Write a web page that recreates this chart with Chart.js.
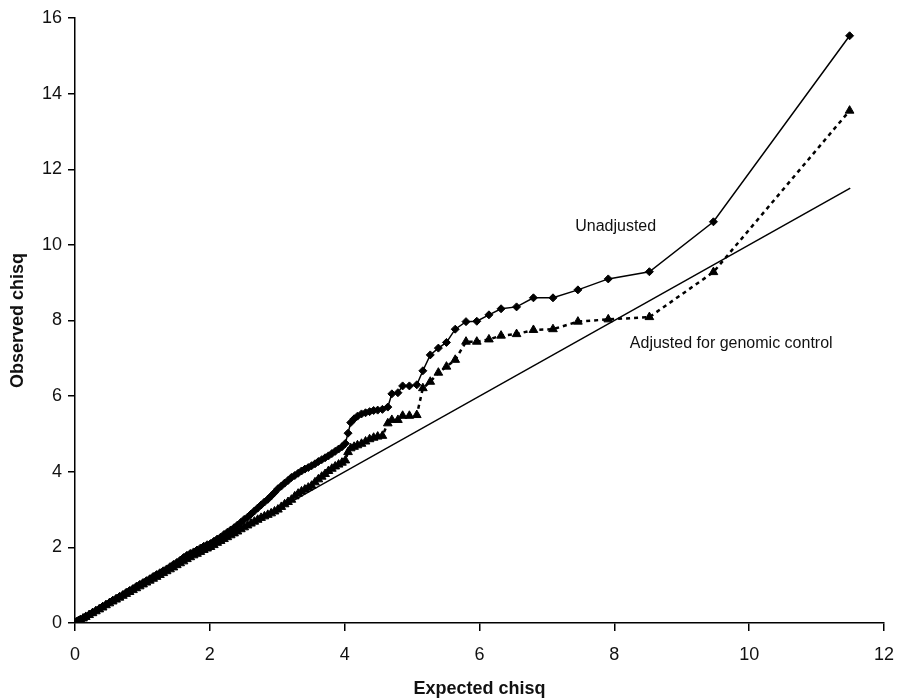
<!DOCTYPE html>
<html>
<head>
<meta charset="utf-8">
<script src="https://cdn.jsdelivr.net/npm/chart.js@4.4.1/dist/chart.umd.min.js"></script>
<style>
  html, body { margin: 0; padding: 0; background: #fff; }
  #wrap { width: 907px; height: 700px; }
</style>
</head>
<body>
<div id="wrap"><canvas id="qq"></canvas></div>
<script>
// expected chisq (shared x for both series)
const expected = [
  0.00, 0.02, 0.05, 0.08, 0.12, 0.16, 0.21, 0.26, 0.31, 0.36,
  0.41, 0.46, 0.51, 0.56, 0.61, 0.66, 0.71, 0.76, 0.81, 0.86,
  0.91, 0.96, 1.01, 1.06, 1.11, 1.16, 1.21, 1.26, 1.31, 1.36,
  1.41, 1.46, 1.51, 1.56, 1.61, 1.66, 1.71, 1.76, 1.81, 1.86,
  1.91, 1.96, 2.01, 2.06, 2.11, 2.16, 2.21, 2.26, 2.31, 2.36,
  2.41, 2.46, 2.51, 2.56, 2.61, 2.66, 2.71, 2.76, 2.81, 2.86,
  2.91, 2.96, 3.01, 3.06, 3.11, 3.16, 3.21, 3.26, 3.31, 3.36,
  3.41, 3.46, 3.51, 3.56, 3.61, 3.66, 3.71, 3.76, 3.81, 3.86,
  3.91, 3.96, 4.01, 4.05, 4.09, 4.14, 4.19, 4.25, 4.31, 4.37,
  4.43, 4.49, 4.56, 4.64, 4.70, 4.79, 4.86, 4.96, 5.07, 5.16,
  5.27, 5.39, 5.51, 5.64, 5.80, 5.96, 6.14, 6.32, 6.55, 6.80,
  7.09, 7.46, 7.91, 8.52, 9.47, 11.49
];

// observed chisq, unadjusted
const unadjusted = [
  0.00, 0.02, 0.05, 0.08, 0.12, 0.17, 0.22, 0.28, 0.33, 0.38,
  0.44, 0.49, 0.54, 0.60, 0.65, 0.70, 0.75, 0.81, 0.86, 0.91,
  0.97, 1.02, 1.07, 1.12, 1.17, 1.23, 1.28, 1.33, 1.38, 1.43,
  1.49, 1.55, 1.60, 1.66, 1.73, 1.79, 1.84, 1.88, 1.93, 1.98,
  2.03, 2.07, 2.10, 2.16, 2.22, 2.27, 2.34, 2.40, 2.46, 2.52,
  2.59, 2.66, 2.74, 2.80, 2.88, 2.96, 3.04, 3.12, 3.20, 3.27,
  3.36, 3.45, 3.55, 3.62, 3.70, 3.77, 3.85, 3.90, 3.96, 4.02,
  4.07, 4.11, 4.16, 4.21, 4.27, 4.32, 4.37, 4.42, 4.48, 4.54,
  4.60, 4.66, 4.75, 5.02, 5.30, 5.40, 5.47, 5.53, 5.56, 5.59,
  5.62, 5.63, 5.65, 5.71, 6.06, 6.09, 6.27, 6.27, 6.30, 6.67,
  7.09, 7.27, 7.42, 7.77, 7.97, 7.98, 8.15, 8.31, 8.36, 8.60,
  8.60, 8.81, 9.10, 9.29, 10.61, 15.53
];

// observed chisq, adjusted for genomic control
const adjusted = [
  0.00, 0.02, 0.05, 0.08, 0.12, 0.16, 0.21, 0.26, 0.31, 0.36,
  0.41, 0.47, 0.52, 0.57, 0.62, 0.67, 0.72, 0.77, 0.82, 0.87,
  0.92, 0.97, 1.02, 1.07, 1.12, 1.17, 1.22, 1.27, 1.32, 1.37,
  1.42, 1.47, 1.53, 1.58, 1.63, 1.69, 1.74, 1.79, 1.83, 1.88,
  1.93, 1.97, 2.01, 2.06, 2.12, 2.17, 2.22, 2.27, 2.32, 2.37,
  2.42, 2.48, 2.53, 2.58, 2.63, 2.68, 2.73, 2.78, 2.82, 2.86,
  2.90, 2.95, 3.00, 3.07, 3.14, 3.20, 3.26, 3.35, 3.42, 3.48,
  3.53, 3.58, 3.63, 3.72, 3.80, 3.87, 3.94, 4.02, 4.08, 4.14,
  4.19, 4.24, 4.30, 4.52, 4.62, 4.66, 4.70, 4.74, 4.80, 4.86,
  4.90, 4.93, 4.95, 5.28, 5.37, 5.37, 5.48, 5.48, 5.50, 6.21,
  6.38, 6.62, 6.78, 6.96, 7.44, 7.44, 7.50, 7.60, 7.64, 7.75,
  7.77, 7.97, 8.03, 8.09, 9.28, 13.55
];

// y = x reference line
const refLine = [0, 11.5];

const toPoints = (xs, ys) => xs.map((x, i) => ({ x: x, y: ys[i] }));

const FONT = '"Liberation Sans", Arial, Helvetica, sans-serif';

const seriesLabels = {
  id: 'seriesLabels',
  afterDatasetsDraw(chart) {
    const ctx = chart.ctx;
    const x = chart.scales.x;
    const y = chart.scales.y;
    ctx.save();
    ctx.font = '16px ' + FONT;
    ctx.fillStyle = '#111';
    ctx.textAlign = 'left';
    ctx.textBaseline = 'middle';
    ctx.fillText('Unadjusted', x.getPixelForValue(7.42), y.getPixelForValue(10.48));
    ctx.fillText('Adjusted for genomic control', x.getPixelForValue(8.23), y.getPixelForValue(7.38));
    ctx.restore();
  }
};

new Chart(document.getElementById('qq').getContext('2d'), {
  type: 'scatter',
  data: {
    datasets: [
      {
        label: 'Unadjusted',
        data: toPoints(expected, unadjusted),
        showLine: true,
        borderColor: '#000',
        backgroundColor: '#000',
        borderWidth: 1.5,
        pointStyle: 'rectRot',
        pointRadius: 4,
        pointBorderWidth: 1
      },
      {
        label: 'Adjusted for genomic control',
        data: toPoints(expected, adjusted),
        showLine: true,
        borderColor: '#000',
        backgroundColor: '#000',
        borderWidth: 2.5,
        borderDash: [4, 4],
        pointStyle: 'triangle',
        pointRadius: 5,
        pointBorderWidth: 1
      },
      {
        label: 'Expected',
        data: toPoints(refLine, refLine),
        showLine: true,
        borderColor: '#000',
        borderWidth: 1.5,
        pointRadius: 0
      }
    ]
  },
  options: {
    responsive: true,
    maintainAspectRatio: false,
    animation: false,
    layout: { padding: { top: 18, right: 13, left: 0, bottom: 0 } },
    plugins: {
      legend: { display: false },
      tooltip: { enabled: false }
    },
    scales: {
      x: {
        type: 'linear',
        min: 0,
        max: 12,
        afterFit: (scale) => { scale.height = 77; },
        ticks: { stepSize: 2, padding: 13, color: '#111', font: { family: FONT, size: 18 } },
        grid: { drawOnChartArea: false, drawTicks: true, tickLength: 8, color: '#000', lineWidth: 1.5 },
        border: { color: '#000', width: 1.5 },
        title: {
          display: true,
          text: 'Expected chisq',
          color: '#111',
          font: { family: FONT, size: 18, weight: 'bold' },
          padding: { top: 0, bottom: 0 }
        }
      },
      y: {
        type: 'linear',
        min: 0,
        max: 16,
        afterFit: (scale) => { scale.width = 75; },
        ticks: { stepSize: 2, padding: 6, color: '#111', font: { family: FONT, size: 18 } },
        grid: { drawOnChartArea: false, drawTicks: true, tickLength: 7, color: '#000', lineWidth: 1.5 },
        border: { color: '#000', width: 1.5 },
        title: {
          display: true,
          text: 'Observed chisq',
          color: '#111',
          font: { family: FONT, size: 18, weight: 'bold' },
          padding: { top: 7, bottom: 0 }
        }
      }
    }
  },
  plugins: [seriesLabels]
});
</script>
</body>
</html>
